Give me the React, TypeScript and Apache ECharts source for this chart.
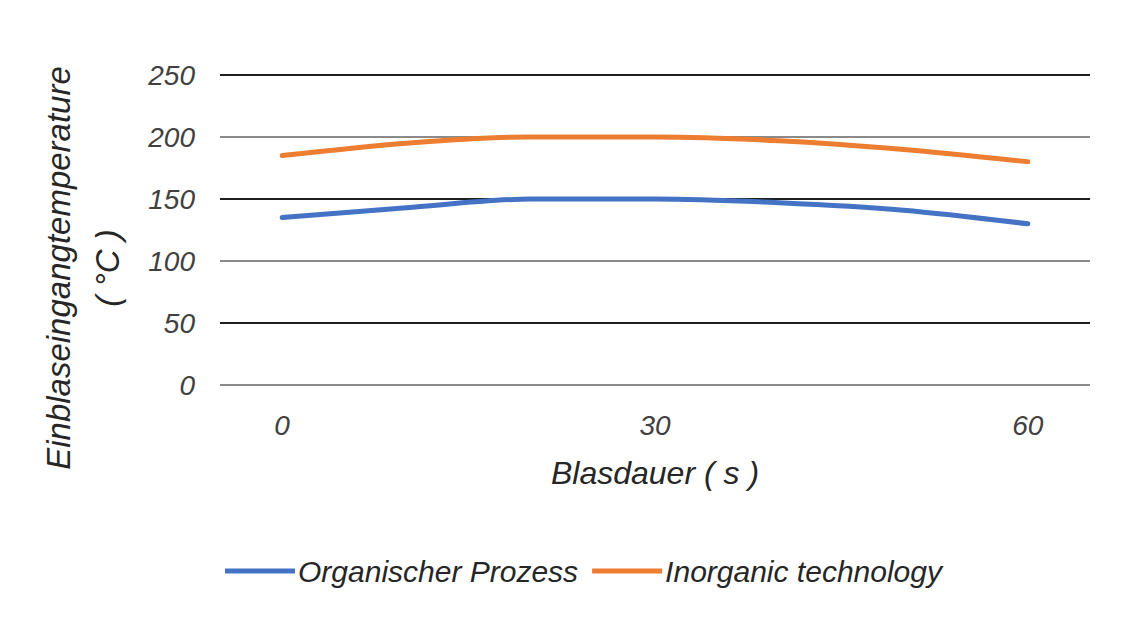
import React, { useEffect, useRef } from "react";
import * as echarts from "echarts";

const categories = ["0", "10", "20", "30", "40", "50", "60"];
const organic = [135, 143, 150, 150, 147, 141, 130];
const inorganic = [185, 195, 200, 200, 197, 190, 180];
const seriesNames = ["Organischer Prozess", "Inorganic technology"];
const yTicks = { min: 0, max: 250, interval: 50 };

const FONT = "'Liberation Sans', Arial, sans-serif";

export default function App() {
  const ref = useRef<HTMLDivElement>(null);
  useEffect(() => {
    if (!ref.current) return;
    const chart = echarts.init(ref.current, undefined, { renderer: "svg" });
    chart.setOption({
      animation: false,
      backgroundColor: "#ffffff",
      textStyle: { fontFamily: FONT },
      grid: { left: 220, right: 36, top: 75, bottom: 239, containLabel: false, outerBoundsMode: "none" },
      legend: {
        left: 220,
        top: 551,
        itemWidth: 70,
        itemHeight: 5,
        itemGap: 14,
        icon: "rect",
        textStyle: { fontSize: 30, fontStyle: "italic", color: "#262626", fontFamily: FONT, padding: [0, 0, 0, -2] },
        data: seriesNames,
      },
      xAxis: {
        type: "category",
        data: categories,
        boundaryGap: true,
        axisLine: { show: false },
        axisTick: { show: false },
        axisLabel: {
          interval: 2,
          margin: 26,
          fontSize: 28,
          fontStyle: "italic",
          color: "#404040",
          fontFamily: FONT,
        },
        name: "Blasdauer ( s )",
        nameLocation: "middle",
        nameGap: 72,
        nameTextStyle: { fontSize: 32, fontStyle: "italic", color: "#262626", fontFamily: FONT },
      },
      yAxis: {
        type: "value",
        min: yTicks.min,
        max: yTicks.max,
        interval: yTicks.interval,
        axisLine: { show: false },
        axisTick: { show: false },
        splitLine: { show: true, lineStyle: { color: ["#8a8a8a", "#1e1e1e"], width: 2 } },
        axisLabel: {
          margin: 25,
          fontSize: 28,
          fontStyle: "italic",
          color: "#404040",
          fontFamily: FONT,
        },
        name: "Einblaseingangtemperature\n( °C )",
        nameLocation: "middle",
        nameGap: 88,
        nameTextStyle: {
          fontSize: 33,
          fontStyle: "italic",
          color: "#262626",
          fontFamily: FONT,
          lineHeight: 49,
          padding: [0, 76, 0, 0],
        },
      },
      series: [
        {
          name: seriesNames[0],
          type: "line",
          data: organic,
          smooth: 0.3,
          symbol: "none",
          lineStyle: { width: 5, color: "#4472C4", cap: "round" },
          itemStyle: { color: "#4472C4" },
        },
        {
          name: seriesNames[1],
          type: "line",
          data: inorganic,
          smooth: 0.3,
          symbol: "none",
          lineStyle: { width: 5, color: "#ED7D31", cap: "round" },
          itemStyle: { color: "#ED7D31" },
        },
      ],
    });
    return () => chart.dispose();
  }, []);
  return (
    <div
      ref={ref}
      style={{ position: "fixed", left: 0, top: 0, width: 1126, height: 624 }}
    />
  );
}
